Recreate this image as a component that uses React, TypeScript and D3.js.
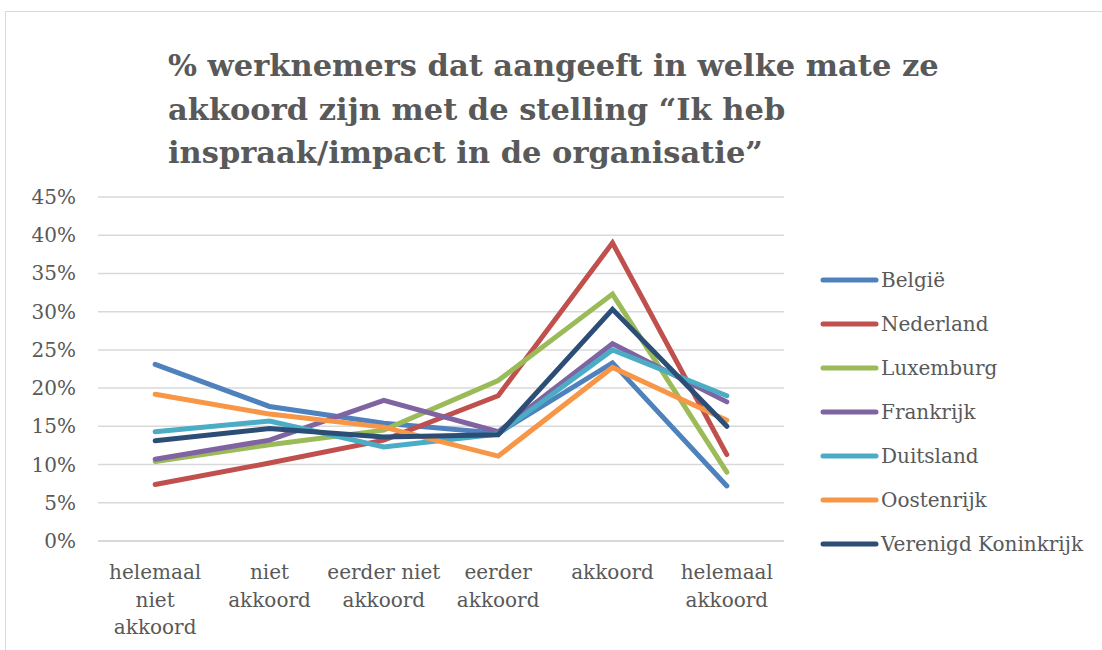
import React from "react";
import * as d3 from "d3";

const categories = [
  ["helemaal", "niet", "akkoord"],
  ["niet", "akkoord"],
  ["eerder niet", "akkoord"],
  ["eerder", "akkoord"],
  ["akkoord"],
  ["helemaal", "akkoord"],
];

const countries = [
  "België",
  "Nederland",
  "Luxemburg",
  "Frankrijk",
  "Duitsland",
  "Oostenrijk",
  "Verenigd Koninkrijk",
];

const belgie = [23.1, 17.6, 15.4, 14.1, 23.3, 7.2];
const nederland = [7.4, 10.2, 13.2, 19.0, 39.0, 11.3];
const luxemburg = [10.4, 12.6, 14.5, 21.0, 32.3, 9.0];
const frankrijk = [10.7, 13.2, 18.4, 14.3, 25.8, 18.2];
const duitsland = [14.3, 15.7, 12.3, 14.0, 25.0, 19.0];
const oostenrijk = [19.2, 16.6, 14.9, 11.1, 22.7, 15.8];
const verenigdKoninkrijk = [13.1, 14.7, 13.6, 13.9, 30.3, 15.0];

const seriesValues = [belgie, nederland, luxemburg, frankrijk, duitsland, oostenrijk, verenigdKoninkrijk];
const colors = ["#4F81BD", "#C0504D", "#9BBB59", "#8064A2", "#4BACC6", "#F79646", "#2C4D75"];

const yTicks = [0, 5, 10, 15, 20, 25, 30, 35, 40, 45];

const titleLines = [
  "% werknemers dat aangeeft in welke mate ze",
  "akkoord zijn met de stelling \u201CIk heb",
  "inspraak/impact in de organisatie\u201D",
];

export default function App() {
  const font = "'DejaVu Serif', serif";
  const textColor = "#595959";

  const x = d3.scaleBand<number>().domain(d3.range(categories.length)).range([98, 784]);
  const y = d3.scaleLinear().domain([0, 45]).range([541, 197]);
  const cx = (i: number) => (x(i) as number) + x.bandwidth() / 2;

  const line = d3
    .line<number>()
    .x((_, i) => cx(i))
    .y((d) => y(d));

  return (
    <svg width={1102} height={650} style={{ position: "absolute", left: 0, top: 0, background: "#fff" }}>
      <rect x={5.5} y={11.5} width={1110} height={660} fill="#fff" stroke="#d9d9d9" strokeWidth={1} />

      <g fontFamily={font} fontWeight="bold" fill={textColor} fontSize={30.5}>
        {titleLines.map((t, i) => (
          <text key={i} x={168} y={76 + i * 43.5}>
            {t}
          </text>
        ))}
      </g>

      {yTicks.map((t) => (
        <line
          key={t}
          x1={98}
          x2={784}
          y1={y(t)}
          y2={y(t)}
          stroke="#d9d9d9"
          strokeWidth={t === 0 ? 2 : 1.5}
        />
      ))}

      <g fontFamily={font} fill={textColor} fontSize={20} textAnchor="end">
        {yTicks.map((t) => (
          <text key={t} x={76} y={y(t) + 7}>
            {t + "%"}
          </text>
        ))}
      </g>

      <g fontFamily={font} fill={textColor} fontSize={20} textAnchor="middle">
        {categories.map((lines, i) => (
          <text key={i} x={cx(i)} y={579}>
            {lines.map((l, j) => (
              <tspan key={j} x={cx(i)} dy={j === 0 ? 0 : 27.5}>
                {l}
              </tspan>
            ))}
          </text>
        ))}
      </g>

      {seriesValues.map((vals, s) => (
        <path
          key={s}
          d={line(vals) || ""}
          fill="none"
          stroke={colors[s]}
          strokeWidth={5}
          strokeLinecap="round"
          strokeLinejoin="miter"
        />
      ))}

      <g fontFamily={font} fill={textColor} fontSize={20}>
        {countries.map((c, i) => (
          <g key={c} transform={`translate(0, ${280 + i * 44})`}>
            <line x1={823} x2={876} y1={0} y2={0} stroke={colors[i]} strokeWidth={5} strokeLinecap="round" />
            <text x={881} y={7}>
              {c}
            </text>
          </g>
        ))}
      </g>
    </svg>
  );
}
